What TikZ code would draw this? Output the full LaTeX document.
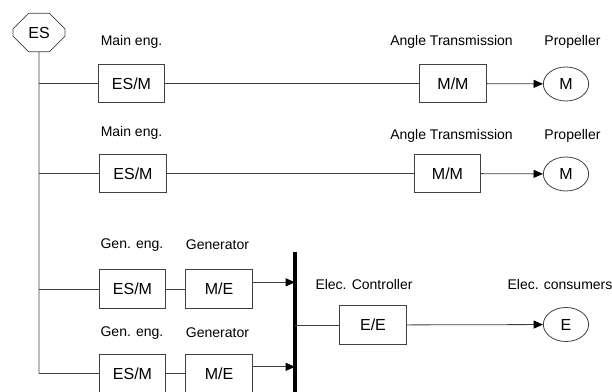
\documentclass[tikz,border=0pt]{standalone}
\usepackage{fontspec}
\setmainfont{Liberation Sans}
\usetikzlibrary{shapes.misc,shapes.geometric,arrows.meta}

\tikzset{
  blk/.style={draw=black!75,line width=0.6pt,minimum width=50pt,minimum height=29pt,inner sep=0pt,font=\fontsize{12}{14}\selectfont},
  load/.style={draw=black!75,line width=0.6pt,ellipse,minimum width=34pt,minimum height=25.5pt,inner sep=0pt,font=\fontsize{12}{14}\selectfont},
  src/.style={draw=black!75,line width=0.6pt,chamfered rectangle,chamfered rectangle xsep=7.5pt,chamfered rectangle ysep=7.5pt,minimum width=39pt,minimum height=29pt,inner sep=0pt,font=\fontsize{12}{14}\selectfont},
  lbl/.style={inner sep=0pt},
  wire/.style={draw=black!75,line width=0.6pt},
  flow/.style={wire,-{Triangle[length=7pt,width=6pt,color=black]}}
}

\begin{document}
\begin{tikzpicture}[x=0.75pt,y=-0.75pt,font=\fontsize{10.5}{12}\selectfont]
    \useasboundingbox (0,0) rectangle (612,392);
    % source
    \node[src] (es) at (39,32.5) {ES};
    % main propulsion lines
    \node[blk] (esm1) at (131.5,83.5) {ES/M};
    \node[blk] (mm1) at (453,83.5) {M/M};
    \node[load] (prop1) at (566,84) {M};
    \node[blk] (esm2) at (133,173.5) {ES/M};
    \node[blk] (mm2) at (447.5,173.5) {M/M};
    \node[load] (prop2) at (566,174) {M};
    \node[lbl] (lmain1) at (131.5,42) {Main eng.};
    \node[lbl] (lang1) at (451.5,42) {Angle Transmission};
    \node[lbl] (lprop1) at (572.5,42) {Propeller};
    \node[lbl] (lmain2) at (131.5,133) {Main eng.};
    \node[lbl] (lang2) at (451.5,136) {Angle Transmission};
    \node[lbl] (lprop2) at (572.5,136) {Propeller};
    % generator sets
    \node[blk] (esm3) at (132.5,289) {ES/M};
    \node[blk] (me3) at (219,289) {M/E};
    \node[blk] (esm4) at (132.5,373.5) {ES/M};
    \node[blk] (me4) at (219,373.5) {M/E};
    \node[lbl] (lgen3) at (132,245) {Gen. eng.};
    \node[lbl] (lgnr3) at (217.5,245) {Generator};
    \node[lbl] (lgen4) at (132,333) {Gen. eng.};
    \node[lbl] (lgnr4) at (217.5,333) {Generator};
    % electric side
    \node[blk] (ee) at (373,325) {E/E};
    \node[load] (cons) at (566,324.5) {E};
    \node[lbl] (lctrl) at (364,284) {Elec. Controller};
    \node[lbl] (lcons) at (560,284) {Elec. consumers};
    \coordinate (bustop) at (295,252);
    \coordinate (busbot) at (295,400);
    \draw[line width=2.3pt] (bustop) -- (busbot);
    % connections
    \draw[wire] (es) -- (es |- esm4);
    \foreach \b in {esm1,esm2,esm3,esm4}
    \draw[wire] (es |- \b) -- (\b);
    \draw[wire] (esm1) -- (mm1);
    \draw[wire] (esm2) -- (mm2);
    \draw[flow] (mm1) -- (prop1);
    \draw[flow] (mm2) -- (prop2);
    \draw[wire] (esm3) -- (me3);
    \draw[wire] (esm4) -- (me4);
    \draw[flow] ([yshift=5pt]me3.east) coordinate (g3) -- (g3 -| bustop);
    \draw[flow] ([yshift=5pt]me4.east) coordinate (g4) -- (g4 -| bustop);
    \draw[wire] (ee -| bustop) -- (ee);
    \draw[flow] (ee) -- (cons);
\end{tikzpicture}
\end{document}
